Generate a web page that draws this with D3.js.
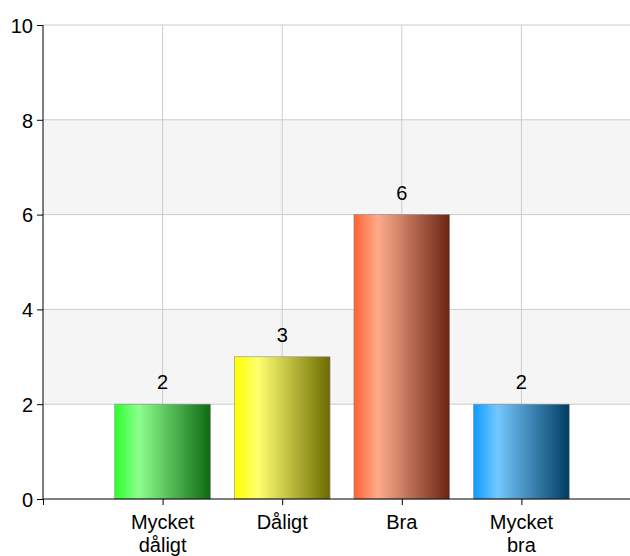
<!DOCTYPE html>
<html>
<head>
<meta charset="utf-8">
<script src="https://cdn.jsdelivr.net/npm/d3@7"></script>
<style>
    body { margin: 0; background: #fff; }
    text { font-family: "Liberation Sans", Arial, sans-serif; fill: #000; }
</style>
</head>
<body>
<script>
const categories = [["Mycket", "dåligt"], ["Dåligt"], ["Bra"], ["Mycket", "bra"]];
const values = [2, 3, 6, 2];
const yTicks = [0, 2, 4, 6, 8, 10];
// left colour, light highlight, dark end of each bar's shading
const barColors = [
    ["#2eff2e", "#8cff8c", "#0f6a12"],
    ["#ffff00", "#ffff70", "#6b6b00"],
    ["#ff6232", "#ffab8c", "#6a2412"],
    ["#0b9bff", "#74c8ff", "#003c62"]
];

const width = 630, height = 556;
const margin = { top: 25, right: 0, bottom: 57, left: 43 };

const x = d3.scaleLinear().domain([0, 5]).range([margin.left, margin.left + 5 * 119.6]);
const y = d3.scaleLinear().domain([0, 10]).range([height - margin.bottom, margin.top]);

const svg = d3.select("body").append("svg")
    .attr("width", width)
    .attr("height", height);

const defs = svg.append("defs");
barColors.forEach(function (c, i) {
    const g = defs.append("linearGradient")
        .attr("id", "grad" + i)
        .attr("x1", "0%").attr("x2", "100%")
        .attr("y1", "0%").attr("y2", "0%");
    g.append("stop").attr("offset", "0%").attr("stop-color", c[0]);
    g.append("stop").attr("offset", "25%").attr("stop-color", c[1]);
    g.append("stop").attr("offset", "100%").attr("stop-color", c[2]);
});

// alternating bands
const bands = d3.range(0, 10, 2);
svg.append("g").selectAll("rect")
    .data(bands)
    .enter().append("rect")
    .attr("x", margin.left)
    .attr("width", width - margin.left)
    .attr("y", d => y(d + 2))
    .attr("height", d => y(d) - y(d + 2))
    .attr("fill", d => (d / 2) % 2 === 1 ? "#f5f5f5" : "#fff");

// grid lines
svg.append("g").selectAll("line")
    .data(yTicks.slice(1))
    .enter().append("line")
    .attr("x1", margin.left).attr("x2", width)
    .attr("y1", d => y(d)).attr("y2", d => y(d))
    .attr("stroke", "#cbcbcb");

svg.append("g").selectAll("line")
    .data(categories)
    .enter().append("line")
    .attr("x1", (d, i) => x(i + 1)).attr("x2", (d, i) => x(i + 1))
    .attr("y1", y(10)).attr("y2", y(0))
    .attr("stroke", "#cbcbcb");

// bars
const barW = x(0.8) - x(0);
svg.append("g").selectAll("rect")
    .data(values)
    .enter().append("rect")
    .attr("x", (d, i) => x(i + 1) - barW / 2)
    .attr("width", barW)
    .attr("y", d => y(d))
    .attr("height", d => y(0) - y(d))
    .attr("fill", (d, i) => "url(#grad" + i + ")")
    .attr("stroke", "#8a8a8a")
    .attr("stroke-width", 0.6);

// value labels
svg.append("g").selectAll("text")
    .data(values)
    .enter().append("text")
    .attr("x", (d, i) => x(i + 1))
    .attr("y", d => y(d) - 15)
    .attr("text-anchor", "middle")
    .attr("font-size", "20px")
    .text(d => d);

// y axis
const yAxis = d3.axisLeft(y).tickValues(yTicks).tickSize(6).tickPadding(4);
const ya = svg.append("g")
    .attr("transform", "translate(" + margin.left + ",0)")
    .call(yAxis);
ya.selectAll("text")
    .attr("font-size", "20px")
    .attr("font-family", "Liberation Sans, Arial, sans-serif")
    .attr("dy", "0.36em");
ya.select(".domain").attr("d", "M0," + y(10) + "V" + y(0));

// x axis
const xAxis = d3.axisBottom(x).tickValues([0, 1, 2, 3, 4]).tickSize(6).tickFormat("");
const xa = svg.append("g")
    .attr("transform", "translate(0," + y(0) + ")")
    .call(xAxis);
xa.select(".domain").attr("d", "M" + margin.left + ",0H" + width);

// category labels
const cat = svg.append("g").selectAll("text")
    .data(categories)
    .enter().append("text")
    .attr("x", (d, i) => x(i + 1))
    .attr("y", y(0) + 30)
    .attr("text-anchor", "middle")
    .attr("font-size", "20px");
cat.selectAll("tspan")
    .data(d => d)
    .enter().append("tspan")
    .attr("x", function () { return d3.select(this.parentNode).attr("x"); })
    .attr("dy", (d, i) => i === 0 ? 0 : 23)
    .text(d => d);
</script>
</body>
</html>
